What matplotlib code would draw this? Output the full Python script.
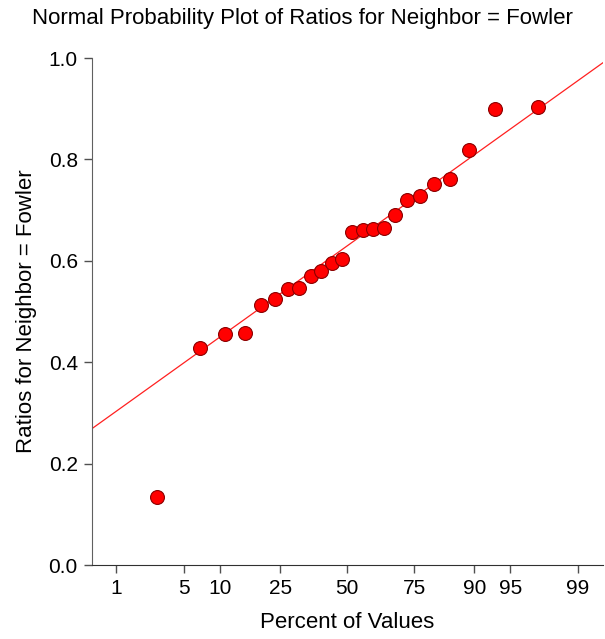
import numpy as np
import matplotlib as mpl
mpl.use('Agg')
import matplotlib.pyplot as plt
from statistics import NormalDist

# ratios for neighbor = Fowler (sorted)
ratios = [0.135, 0.429, 0.456, 0.457, 0.513, 0.525, 0.545, 0.547, 0.570, 0.580,
          0.596, 0.603, 0.657, 0.660, 0.662, 0.665, 0.690, 0.720, 0.728, 0.751,
          0.762, 0.819, 0.900, 0.903]
pct_ticks = [1, 5, 10, 25, 50, 75, 90, 95, 99]
y_ticks = [0.0, 0.2, 0.4, 0.6, 0.8, 1.0]

title = 'Normal Probability Plot of Ratios for Neighbor = Fowler'
xlabel = 'Percent of Values'
ylabel = 'Ratios for Neighbor = Fowler'

plt.rcParams['font.family'] = ['Liberation Sans', 'DejaVu Sans']

nd = NormalDist()
y = np.sort(np.array(ratios))
n = len(y)
# plotting positions (i - 1/3) / (n + 1/3)
pp = (np.arange(1, n + 1) - 1.0 / 3) / (n + 1.0 / 3)
z = np.array([nd.inv_cdf(p) for p in pp])

# reference line through the quartiles
q1, q3 = np.percentile(y, [25, 75], method='hazen')
zq = nd.inv_cdf(0.75)
slope = (q3 - q1) / (2 * zq)
icept = (q3 + q1) / 2

xlim = (nd.inv_cdf(0.005), nd.inv_cdf(0.995))

fig = plt.figure(figsize=(6.05, 6.39), dpi=100)
ax = fig.add_axes([0.1516, 0.1158, 0.8446, 0.7934])

xs = np.array(xlim)
ax.plot(xs, icept + slope * xs, color='#ff2020', lw=0.9, zorder=2)
ax.plot(z, y, 'o', ms=10, mfc='#ff0000', mec='#8b0000', mew=0.8, zorder=3, clip_on=False)

ax.set_xlim(xlim)
ax.set_ylim(0, 1)
ax.set_xticks([nd.inv_cdf(p / 100) for p in pct_ticks])
ax.set_xticklabels([str(p) for p in pct_ticks])
ax.set_yticks(y_ticks)
ax.set_yticklabels([f'{v:.1f}' for v in y_ticks])

for s in ['top', 'right']:
    ax.spines[s].set_visible(False)
ax.spines['left'].set_color('#606060')
ax.spines['bottom'].set_color('#303030')
ax.tick_params(axis='both', direction='out', length=6, width=1, colors='#505050',
               labelcolor='black', labelsize=15, pad=4)

ax.set_xlabel(xlabel, fontsize=16, labelpad=10)
ax.set_ylabel(ylabel, fontsize=16, labelpad=8)
fig.suptitle(title, fontsize=16, y=0.988)

fig.savefig('out.png', dpi=100)
plt.close()
